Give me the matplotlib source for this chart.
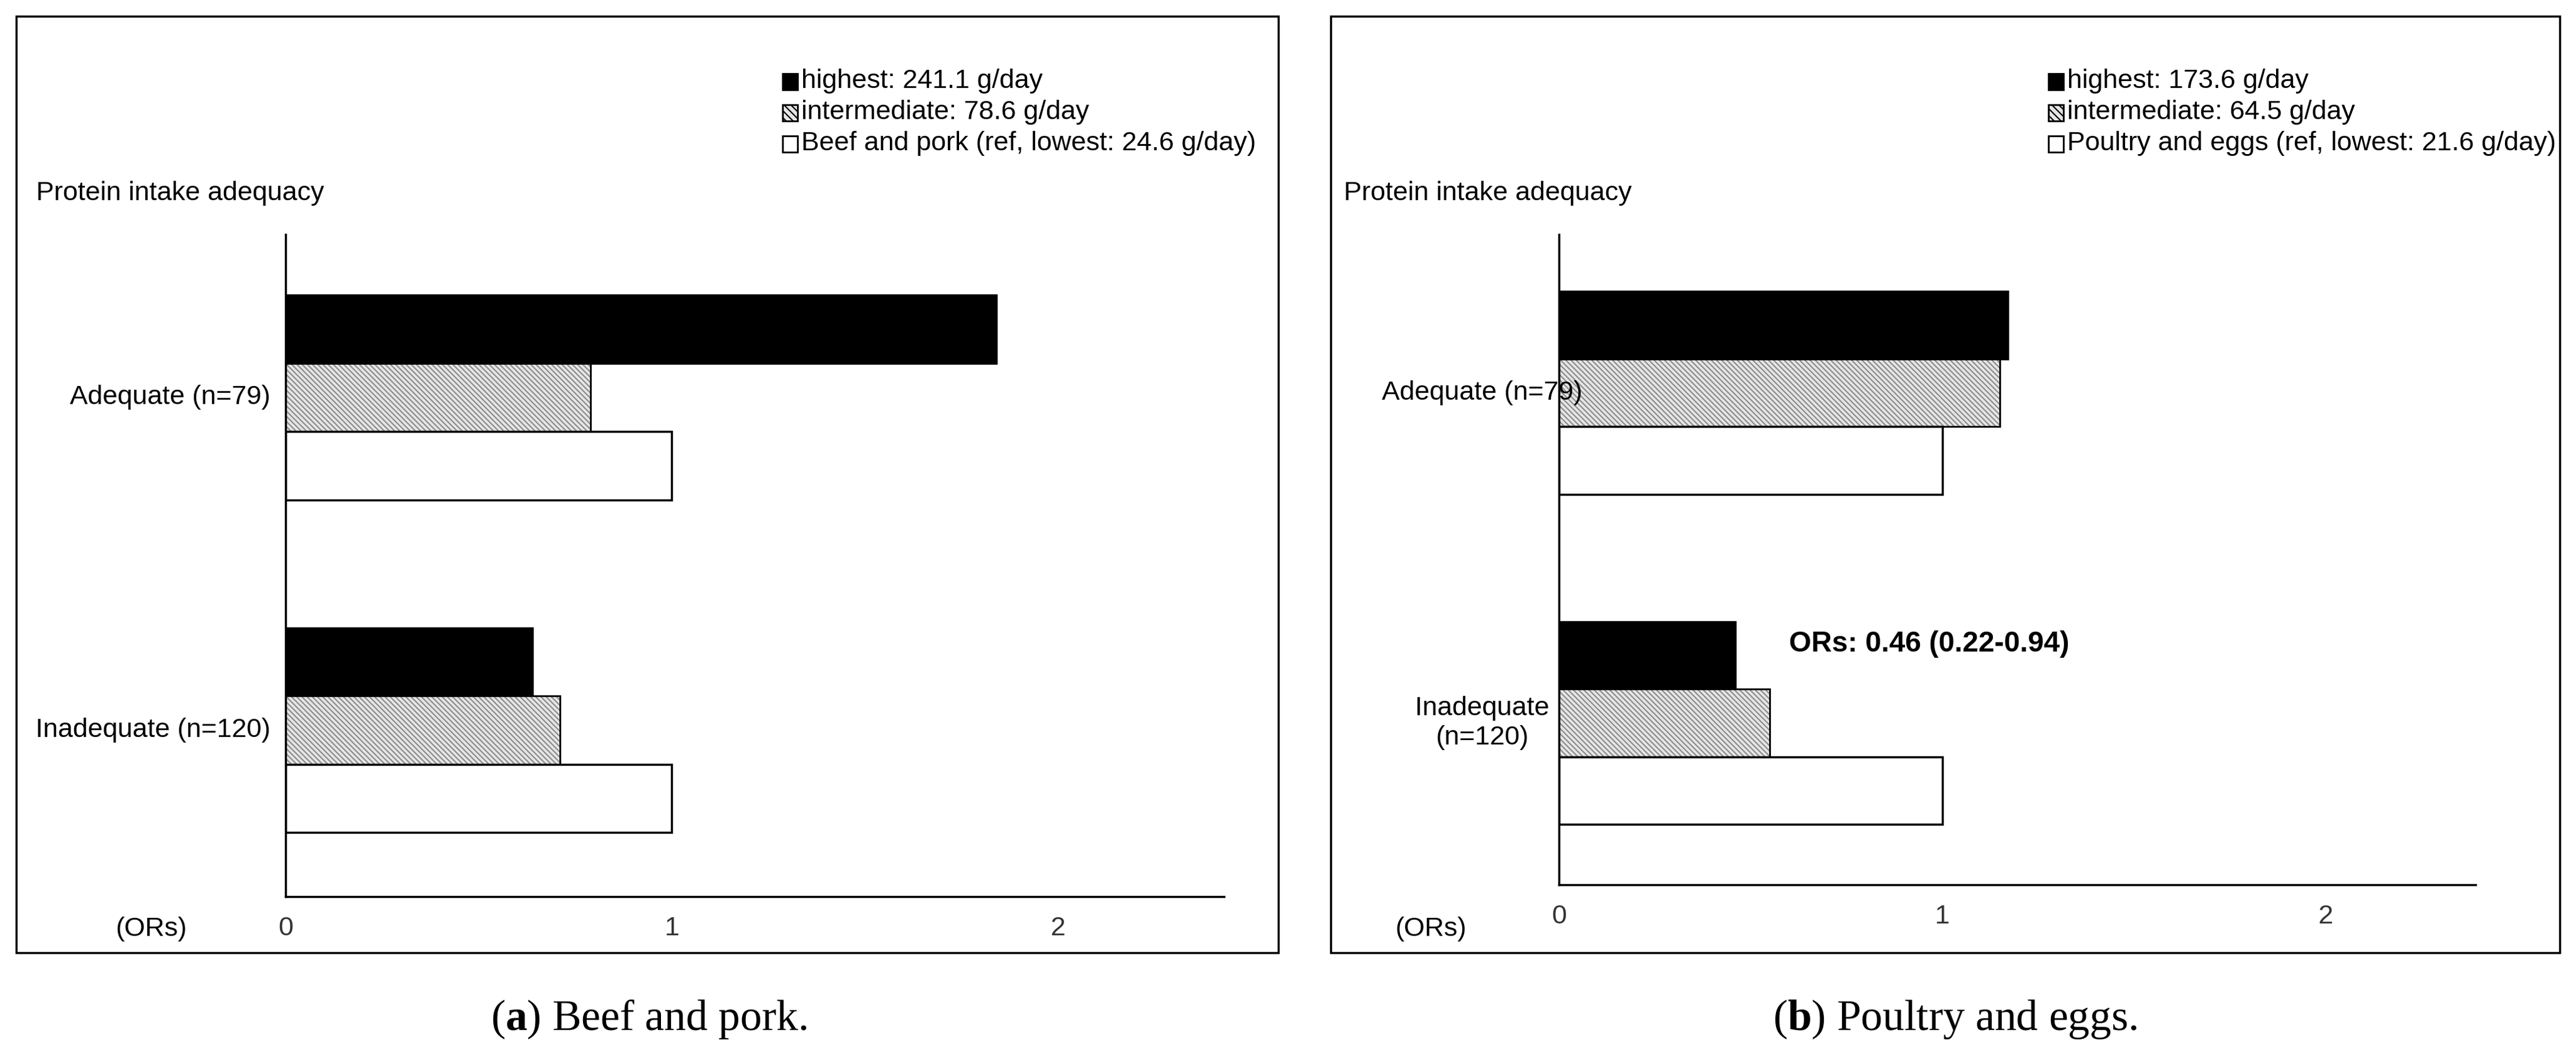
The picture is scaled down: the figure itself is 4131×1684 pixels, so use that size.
import matplotlib
matplotlib.use("Agg")
import matplotlib.pyplot as plt
from matplotlib.patches import Rectangle

plt.rcParams['font.family'] = ['Liberation Sans Narrow', 'Liberation Sans', 'DejaVu Sans']
plt.rcParams['mathtext.fontset'] = 'custom'
plt.rcParams['mathtext.rm'] = 'Liberation Serif'
plt.rcParams['mathtext.bf'] = 'Liberation Serif:bold'
plt.rcParams['hatch.linewidth'] = 1.5

categories = ["Adequate (n=79)", "Inadequate (n=120)"]
categories_b = ["Adequate (n=79)", "Inadequate\n(n=120)"]
a_highest = [1.84, 0.64]
a_inter = [0.79, 0.71]
a_ref = [1.0, 1.0]
b_highest = [1.17, 0.46]
b_inter = [1.15, 0.55]
b_ref = [1.0, 1.0]
a_legend = ["highest: 241.1 g/day", "intermediate: 78.6 g/day", "Beef and pork (ref, lowest: 24.6 g/day)"]
b_legend = ["highest: 173.6 g/day", "intermediate: 64.5 g/day", "Poultry and eggs (ref, lowest: 21.6 g/day)"]
ticks = [0, 1, 2]

W, H = 4131, 1684
fig = plt.figure(figsize=(W/100, H/100), dpi=100)

def fx(px): return px / W
def fy(py): return 1 - py / H

FS = 31

def panel(frame, axrect, ylims, xmax, hi, it, rf, cats, leg, legx, caption_letter, caption_text, capx, catx, titlex, orsx, ha_cats):
    x0, x1, y0, y1 = frame
    fig.add_artist(Rectangle((fx(x0), fy(y1)), fx(x1-x0), (y1-y0)/H, transform=fig.transFigure,
                             fill=False, ec='black', lw=2.5))
    l, r, t, b = axrect
    ax = fig.add_axes([fx(l), fy(b), fx(r-l), (b-t)/H])
    h = 0.205
    ys = [0, 1]
    ax.barh([y - h for y in ys], hi, height=h, color='black', edgecolor='black', lw=2)
    ax.barh(ys, it, height=h, color='#e6e6e6', edgecolor='#8a8a8a', hatch='\\\\\\\\', lw=0)
    ax.barh(ys, it, height=h, color='none', edgecolor='black', lw=2)
    ax.barh([y + h for y in ys], rf, height=h, color='white', edgecolor='black', lw=2.5)
    ax.set_xlim(0, xmax)
    ax.set_ylim(*ylims)
    for s in ['top', 'right']:
        ax.spines[s].set_visible(False)
    for s in ['left', 'bottom']:
        ax.spines[s].set_linewidth(2.5)
    ax.set_yticks([])
    ax.set_xticks(ticks)
    ax.set_xticklabels([str(t) for t in ticks], fontsize=FS, color='#333333')
    ax.tick_params(axis='x', length=0, pad=22)
    for y, c in zip(ys, cats):
        ax.text(catx, y, c, transform=ax.get_yaxis_transform() if False else ax.transData,
                ha=ha_cats, va='center', fontsize=FS, clip_on=False)
    fig.text(fx(titlex), fy(310), "Protein intake adequacy", fontsize=FS, va='center')
    fig.text(fx(orsx), fy(1490), "(ORs)", fontsize=FS, va='center', ha='right')
    # legend
    faces = ['black', '#e6e6e6', 'white']
    for i, (lab, fc) in enumerate(zip(leg, faces)):
        yy = 130 + i * 50
        sq = Rectangle((fx(legx), fy(yy + 14)), fx(24), 26/H, transform=fig.transFigure,
                       fc=fc, ec='black', lw=2, hatch='\\\\\\' if i == 1 else None)
        fig.add_artist(sq)
        fig.text(fx(legx + 30), fy(yy), lab, fontsize=FS, va='center')
    fig.text(fx(capx), fy(1635), r"($\mathbf{" + caption_letter + r"}$) " + caption_text,
             fontsize=50, family='Liberation Serif', ha='center', va='center')
    return ax

axa = panel((26, 2050, 26, 1528), (458, 1963, 376, 1438), (1.5, -0.49), 2.43,
            a_highest, a_inter, a_ref, categories, a_legend, 1255, 'a', 'Beef and pork.', 1040,
            -0.04, 58, 300, 'right')
axb = panel((2134, 4105, 26, 1528), (2500, 3970, 376, 1419), (1.49, -0.48), 2.39,
            b_highest, b_inter, b_ref, categories_b, b_legend, 3285, 'b', 'Poultry and eggs.', 3135,
            -0.2, 2155, 2352, 'center')
axb.text(0.6, 0.76, "ORs: 0.46 (0.22-0.94)", fontsize=FS + 2, fontweight='bold',
         family=['Liberation Sans', 'DejaVu Sans'], va='center')

fig.savefig("out.png", dpi=100, facecolor='white')
